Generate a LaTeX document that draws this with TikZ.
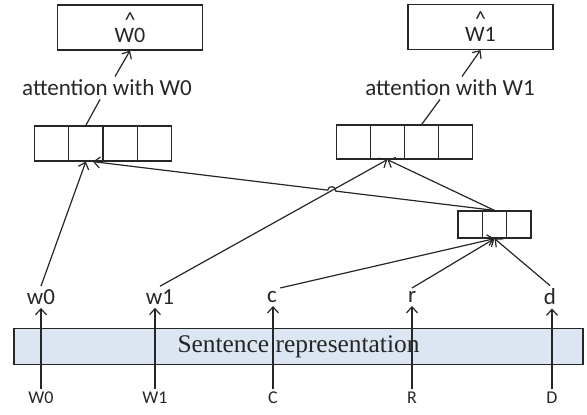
\documentclass[tikz,border=0pt]{standalone}
\usepackage{fontspec}
\setmainfont{Carlito}
\newfontfamily\barserif{Liberation Serif}
\usetikzlibrary{arrows.meta, positioning, shapes, intersections, calc}
\definecolor{barfill}{HTML}{DCE6F2}

\begin{document}
\begin{tikzpicture}[
    x=0.5pt, y=-0.5pt,
    every node/.style = {text=black!85},
    link/.style = {draw=black!85, line width=0.6pt},
    feeds/.style = {link, -{Straight Barb[length=3pt, width=5.5pt]}},
    estimate/.style = {draw=black!85, line width=0.6pt, rectangle, minimum width=72.5pt, minimum height=22.5pt, align=center, font=\fontsize{11}{13}\selectfont},
    memory/.style = {draw=black!85, line width=0.6pt, rectangle split, rectangle split horizontal, rectangle split parts=#1, rectangle split ignore empty parts=false, inner sep=0pt},
    word/.style = {font=\fontsize{11.5}{14}\selectfont, inner sep=1.5pt},
    token/.style = {font=\fontsize{9}{11}\selectfont, inner sep=1.5pt},
    sentenceBar/.style = {draw=black!85, line width=0.6pt, fill=barfill, minimum width=284.5pt, minimum height=16.5pt, font=\barserif\fontsize{12.7}{15}\selectfont}
]
\useasboundingbox (0,0) rectangle (587,414);

% estimates on top
\node(hat0)[estimate] at (130,27.5) {\textasciicircum\\[-5.5pt]W0};
\node(hat1)[estimate] at (480.5,27) {\textasciicircum\\[-5.5pt]W1};

\node(att0)[word] at (107,88) {attention with W0};
\node(att1)[word] at (450,88) {attention with W1};

% memory cells
\node(mem0)[memory=4, rectangle split empty part width=11.8pt, rectangle split empty part height=17.5pt, rectangle split empty part depth=0pt] at (103,143.5) {};
\node(mem1)[memory=4, rectangle split empty part width=11.8pt, rectangle split empty part height=17pt, rectangle split empty part depth=0pt] at (404.5,142) {};
\node(sel)[memory=3, rectangle split empty part width=7pt, rectangle split empty part height=13.5pt, rectangle split empty part depth=0pt] at (494.5,224.5) {};

% words and their inputs
\node(w0)[word] at (41,297) {w0};
\node(w1)[word] at (160,297) {w1};
\node(c)[word] at (272,297) {c};
\node(r)[word] at (412,297) {r};
\node(d)[word] at (550,297) {d};

\node(sent)[sentenceBar] at (298.5,346.5) {Sentence representation};

\node(in0)[token] at (41,398) {W0};
\node(in1)[token] at (155,398) {W1};
\node(in2)[token] at (273,398) {C};
\node(in3)[token] at (412,398) {R};
\node(in4)[token] at (552,398) {D};

\draw[feeds] (in0.north) -- (in0.north |- w0.south);
\draw[feeds] (in1.north) -- (in1.north |- w1.south);
\draw[feeds] (in2.north) -- (in2.north |- c.south);
\draw[feeds] (in3.north) -- (in3.north |- r.south);
\draw[feeds] (in4.north) -- (in4.north |- d.south);

% words into memory
\draw[feeds] (w0.north) -- (mem0.two south);
\draw[feeds, name path=w1link] (w1.north) -- (mem1.two south);
\draw[feeds] (c.north east) -- (sel.two south);
\draw[feeds] (r.north) -- (sel.two south);
\draw[feeds] (d.north) -- (sel.two south);

\draw[feeds] (sel.two north) -- (mem1.two south);

% back link, hopping over w1link
\coordinate(back) at ([xshift=-5pt]mem0.two split south);
\path[name path=backlink] (sel.two north) -- (back);
\path[name intersections={of=w1link and backlink, by=hop}];
\draw[feeds] (sel.two north)
    -- ($(hop)!2pt!(sel.two north)$)
    to[bend right=90, looseness=1.7] ($(hop)!2pt!(back)$)
    -- (back);

% attention
\draw[link] (mem0.two north) -- ([xshift=-3.5pt]att0.south);
\draw[feeds] ([xshift=4pt]att0.north) -- (hat0.south);
\draw[link] (mem1.three north) -- ([xshift=-5pt]att1.south);
\draw[feeds] ([xshift=6pt]att1.north) -- (hat1.south);

\end{tikzpicture}
\end{document}
